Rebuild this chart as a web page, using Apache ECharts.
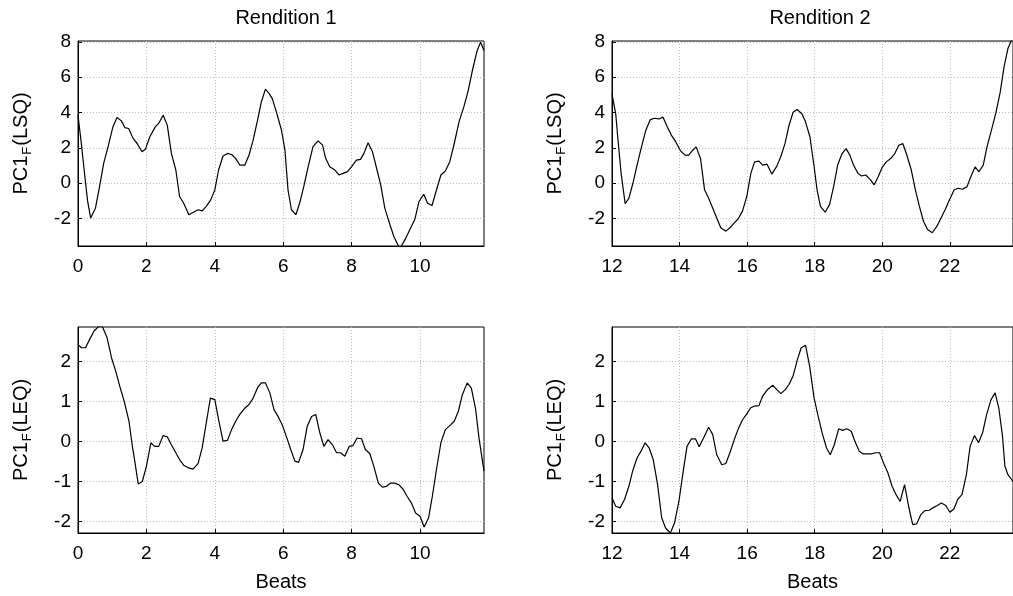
<!DOCTYPE html>
<html>
<head>
<meta charset="utf-8">
<script src="https://cdn.jsdelivr.net/npm/echarts/dist/echarts.min.js"></script>
<style>
  html, body { margin: 0; padding: 0; background: #fff; }
  #main { width: 1013px; height: 596px; }
</style>
</head>
<body>
<div id="main"></div>
<script>
// PC1_F (LSQ), rendition 1, [beat, value]
var r1Lsq = [
  [0,3.85],[0.10,2.2],[0.20,0.4],[0.28,-1.0],[0.37,-1.97],[0.51,-1.41],[0.63,-0.19],[0.75,1.13],[0.88,2.07],
  [1.02,3.19],[1.14,3.72],[1.27,3.53],[1.37,3.15],[1.48,3.10],[1.61,2.54],[1.73,2.25],[1.87,1.78],[1.97,1.92],
  [2.10,2.63],[2.26,3.19],[2.37,3.42],[2.49,3.85],[2.61,3.29],[2.73,1.69],[2.86,0.75],[2.97,-0.75],[3.09,-1.13],
  [3.24,-1.78],[3.36,-1.65],[3.51,-1.50],[3.63,-1.56],[3.75,-1.31],[3.88,-0.94],[4.00,-0.38],[4.11,0.75],
  [4.24,1.54],[4.37,1.69],[4.49,1.63],[4.61,1.41],[4.73,1.03],[4.88,1.03],[5.00,1.60],[5.12,2.44],[5.25,3.57],
  [5.36,4.60],[5.48,5.33],[5.59,5.07],[5.68,4.79],[5.80,4.04],[5.95,3.00],[6.05,1.88],[6.14,-0.38],[6.24,-1.50],
  [6.37,-1.78],[6.48,-1.13],[6.60,-0.19],[6.73,0.94],[6.87,2.07],[7.02,2.40],[7.15,2.16],[7.24,1.41],[7.36,0.94],
  [7.51,0.75],[7.63,0.47],[7.75,0.56],[7.88,0.66],[8.00,0.94],[8.14,1.31],[8.26,1.35],[8.36,1.69],[8.48,2.29],
  [8.61,1.78],[8.73,0.85],[8.85,-0.09],[8.97,-1.41],[9.12,-2.35],[9.24,-3.04],[9.41,-3.70],[9.56,-3.19],
  [9.70,-2.63],[9.85,-2.03],[9.97,-1.03],[10.11,-0.62],[10.22,-1.13],[10.35,-1.26],[10.48,-0.38],[10.61,0.47],
  [10.74,0.69],[10.87,1.22],[11.00,2.25],[11.14,3.47],[11.28,4.32],[11.41,5.26],[11.53,6.38],[11.67,7.51],
  [11.77,7.98],[11.87,7.51]
];
// PC1_F (LSQ), rendition 2
var r2Lsq = [
  [12.0,5.05],[12.11,3.93],[12.17,2.62],[12.27,0.56],[12.39,-1.16],[12.50,-0.84],[12.62,0],[12.73,0.93],
  [12.86,1.96],[13.00,2.99],[13.13,3.59],[13.25,3.68],[13.39,3.64],[13.51,3.74],[13.64,3.18],[13.76,2.71],
  [13.89,2.34],[14.03,1.83],[14.16,1.59],[14.27,1.59],[14.39,1.87],[14.49,2.06],[14.62,1.40],[14.74,-0.37],
  [14.86,-0.84],[14.98,-1.40],[15.10,-1.96],[15.22,-2.52],[15.37,-2.71],[15.49,-2.52],[15.62,-2.24],[15.73,-2.02],
  [15.86,-1.59],[15.99,-0.75],[16.11,0.56],[16.22,1.21],[16.35,1.25],[16.46,1.03],[16.59,1.08],[16.73,0.52],
  [16.88,0.97],[17.00,1.53],[17.12,2.24],[17.24,3.27],[17.36,4.02],[17.48,4.17],[17.62,3.93],[17.73,3.46],
  [17.86,2.62],[17.97,1.12],[18.07,-0.37],[18.17,-1.31],[18.31,-1.64],[18.44,-1.21],[18.56,-0.19],[18.68,1.03],
  [18.81,1.68],[18.93,1.96],[19.04,1.59],[19.15,1.03],[19.28,0.56],[19.39,0.41],[19.51,0.47],[19.64,0.22],
  [19.76,-0.09],[19.88,0.37],[20.00,0.90],[20.12,1.21],[20.25,1.40],[20.37,1.68],[20.49,2.15],[20.61,2.24],
  [20.72,1.64],[20.86,0.75],[20.98,-0.37],[21.10,-1.31],[21.22,-2.15],[21.34,-2.62],[21.48,-2.80],[21.62,-2.43],
  [21.74,-1.96],[21.87,-1.46],[21.99,-0.93],[22.13,-0.37],[22.25,-0.28],[22.38,-0.34],[22.51,-0.19],[22.62,0.37],
  [22.75,0.93],[22.86,0.65],[22.99,1.03],[23.10,2.06],[23.23,2.99],[23.36,3.96],[23.49,5.14],[23.61,6.64],
  [23.72,7.62],[23.87,8.3]
];
// PC1_F (LEQ), rendition 1
var r1Leq = [
  [0,2.43],[0.10,2.35],[0.22,2.35],[0.34,2.56],[0.47,2.77],[0.60,2.88],[0.71,2.89],[0.85,2.60],[0.98,2.10],
  [1.10,1.77],[1.22,1.39],[1.35,1.01],[1.49,0.51],[1.59,-0.12],[1.66,-0.49],[1.76,-1.06],[1.88,-1.00],[2.00,-0.62],
  [2.13,-0.03],[2.24,-0.12],[2.36,-0.12],[2.49,0.15],[2.61,0.12],[2.73,-0.08],[2.86,-0.28],[2.97,-0.45],
  [3.10,-0.60],[3.24,-0.66],[3.36,-0.69],[3.51,-0.55],[3.63,-0.16],[3.75,0.47],[3.87,1.09],[4.00,1.05],
  [4.11,0.55],[4.24,0.01],[4.37,0.03],[4.49,0.30],[4.61,0.51],[4.73,0.68],[4.88,0.84],[5.00,0.93],[5.12,1.09],
  [5.25,1.35],[5.36,1.47],[5.48,1.47],[5.61,1.22],[5.73,0.80],[5.85,0.63],[5.98,0.40],[6.09,0.13],[6.22,-0.20],
  [6.34,-0.49],[6.45,-0.52],[6.58,-0.20],[6.70,0.38],[6.83,0.63],[6.95,0.68],[7.07,0.22],[7.19,-0.12],[7.31,0.05],
  [7.44,-0.08],[7.56,-0.28],[7.68,-0.28],[7.80,-0.37],[7.93,-0.12],[8.04,-0.10],[8.16,0.09],[8.29,0.07],
  [8.40,-0.20],[8.53,-0.30],[8.65,-0.62],[8.78,-1.04],[8.90,-1.14],[9.02,-1.12],[9.14,-1.04],[9.26,-1.04],
  [9.38,-1.08],[9.51,-1.20],[9.62,-1.37],[9.75,-1.54],[9.87,-1.79],[10.00,-1.87],[10.12,-2.14],[10.25,-1.91],
  [10.36,-1.37],[10.48,-0.70],[10.61,-0.03],[10.74,0.30],[10.87,0.40],[11.00,0.51],[11.12,0.76],[11.24,1.18],
  [11.38,1.47],[11.50,1.34],[11.62,0.84],[11.73,0.05],[11.87,-0.74]
];
// PC1_F (LEQ), rendition 2
var r2Leq = [
  [12.0,-1.41],[12.11,-1.62],[12.24,-1.66],[12.37,-1.45],[12.50,-1.12],[12.61,-0.74],[12.74,-0.41],[12.86,-0.24],
  [12.98,-0.03],[13.10,-0.16],[13.22,-0.45],[13.35,-1.08],[13.47,-1.91],[13.59,-2.17],[13.73,-2.29],[13.85,-2.04],
  [13.98,-1.50],[14.10,-0.79],[14.22,-0.12],[14.35,0.07],[14.47,0.07],[14.58,-0.13],[14.71,0.09],[14.86,0.36],
  [14.98,0.18],[15.10,-0.33],[15.25,-0.58],[15.37,-0.55],[15.49,-0.28],[15.62,0.05],[15.73,0.30],[15.86,0.54],
  [15.98,0.68],[16.10,0.84],[16.22,0.89],[16.35,0.90],[16.46,1.14],[16.59,1.29],[16.76,1.41],[16.88,1.30],
  [17.00,1.20],[17.13,1.30],[17.24,1.43],[17.36,1.64],[17.49,2.06],[17.60,2.35],[17.73,2.41],[17.85,1.89],
  [17.98,1.10],[18.09,0.68],[18.22,0.22],[18.35,-0.16],[18.46,-0.33],[18.58,-0.08],[18.71,0.32],[18.83,0.28],
  [18.95,0.32],[19.08,0.26],[19.19,0.01],[19.32,-0.24],[19.44,-0.31],[19.56,-0.31],[19.68,-0.31],[19.81,-0.28],
  [19.92,-0.28],[20.04,-0.54],[20.17,-0.79],[20.29,-1.12],[20.41,-1.33],[20.53,-1.50],[20.66,-1.08],[20.78,-1.62],
  [20.90,-2.08],[21.02,-2.06],[21.14,-1.83],[21.26,-1.73],[21.39,-1.72],[21.50,-1.66],[21.63,-1.60],[21.75,-1.54],
  [21.88,-1.60],[22.00,-1.77],[22.12,-1.69],[22.24,-1.44],[22.36,-1.33],[22.49,-0.83],[22.60,-0.12],[22.73,0.15],
  [22.85,-0.03],[22.97,0.22],[23.09,0.68],[23.22,1.05],[23.34,1.22],[23.45,0.84],[23.56,0.13],[23.63,-0.62],
  [23.72,-0.83],[23.87,-1.0]
];

var beatTicks1 = [0, 2, 4, 6, 8, 10];
var beatTicks2 = [12, 14, 16, 18, 20, 22];
var lsqTicks = [-2, 0, 2, 4, 6, 8];
var leqTicks = [-2, -1, 0, 1, 2];

var FONT = 'Liberation Sans, Arial, sans-serif';

function xAxis(idx, min, max, ticks, showName) {
  return {
    type: 'value', gridIndex: idx, min: min, max: max,
    name: showName ? 'Beats' : '', nameLocation: 'middle', nameGap: 39,
    nameTextStyle: { color: '#000', fontSize: 20, fontFamily: FONT },
    axisLine: { onZero: false, lineStyle: { color: '#000', width: 1 } },
    axisTick: { inside: true, length: 4, customValues: ticks, lineStyle: { color: '#000' } },
    axisLabel: { customValues: ticks, color: '#000', fontSize: 19, fontFamily: FONT, margin: 11 },
    splitLine: { show: true, lineStyle: { color: '#bbb', type: [1, 2], width: 1 } }
  };
}

function yAxis(idx, min, max, ticks, tag) {
  return {
    type: 'value', gridIndex: idx, min: min, max: max,
    name: '{a|PC1}{s|F}{a|(' + tag + ')}', nameLocation: 'middle', nameGap: 44, nameRotate: 90,
    nameTextStyle: {
      color: '#000', fontFamily: FONT,
      rich: {
        a: { fontSize: 20, fontFamily: FONT, color: '#000', lineHeight: 26 },
        s: { fontSize: 13, fontFamily: FONT, color: '#000', lineHeight: 26, verticalAlign: 'bottom', padding: [13, 1, 0, 1] }
      }
    },
    axisLine: { onZero: false, lineStyle: { color: '#000', width: 1 } },
    axisTick: { inside: true, length: 4, customValues: ticks, lineStyle: { color: '#000' } },
    axisLabel: { customValues: ticks, color: '#000', fontSize: 19, fontFamily: FONT, margin: 7 },
    splitLine: { show: true, lineStyle: { color: '#bbb', type: [1, 2], width: 1 } }
  };
}

function line(idx, data) {
  return {
    type: 'line', xAxisIndex: idx, yAxisIndex: idx, data: data,
    showSymbol: false, clip: true, animation: false,
    lineStyle: { color: '#000', width: 1.2 }
  };
}

var chart = echarts.init(document.getElementById('main'));
chart.setOption({
  backgroundColor: '#fff',
  animation: false,
  title: [
    { text: 'Rendition 1', left: 281, top: 3, textAlign: 'center',
      textStyle: { fontSize: 20, fontWeight: 'normal', color: '#000', fontFamily: FONT } },
    { text: 'Rendition 2', left: 815, top: 3, textAlign: 'center',
      textStyle: { fontSize: 20, fontWeight: 'normal', color: '#000', fontFamily: FONT } }
  ],
  grid: [
    { left: 78, top: 41, width: 406, height: 205, show: true, borderColor: '#000', borderWidth: 1 },
    { left: 612, top: 41, width: 406, height: 205, show: true, borderColor: '#000', borderWidth: 1 },
    { left: 78, top: 327, width: 406, height: 206, show: true, borderColor: '#000', borderWidth: 1 },
    { left: 612, top: 327, width: 406, height: 206, show: true, borderColor: '#000', borderWidth: 1 }
  ],
  xAxis: [
    xAxis(0, 0, 11.87, beatTicks1, false),
    xAxis(1, 12, 23.87, beatTicks2, false),
    xAxis(2, 0, 11.87, beatTicks1, true),
    xAxis(3, 12, 23.87, beatTicks2, true)
  ],
  yAxis: [
    yAxis(0, -3.55, 8.05, lsqTicks, 'LSQ'),
    yAxis(1, -3.55, 8.05, lsqTicks, 'LSQ'),
    yAxis(2, -2.29, 2.87, leqTicks, 'LEQ'),
    yAxis(3, -2.29, 2.87, leqTicks, 'LEQ')
  ],
  series: [
    line(0, r1Lsq),
    line(1, r2Lsq),
    line(2, r1Leq),
    line(3, r2Leq)
  ]
});
</script>
</body>
</html>
